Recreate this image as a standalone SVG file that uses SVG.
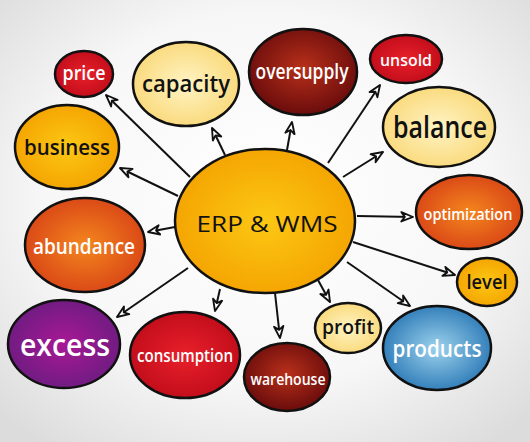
<svg xmlns="http://www.w3.org/2000/svg" width="530" height="442" viewBox="0 0 530 442">
<defs>
<radialGradient id="bg" cx="50%" cy="45%" r="70%"><stop offset="0" stop-color="#ffffff"/><stop offset="0.6" stop-color="#f7f7f7"/><stop offset="1" stop-color="#dcdcdc"/></radialGradient>
<radialGradient id="gRed" cx="50%" cy="50%" r="55%"><stop offset="0" stop-color="#e8202a"/><stop offset="1" stop-color="#c00c1a"/></radialGradient>
<radialGradient id="gPale" cx="50%" cy="50%" r="55%"><stop offset="0" stop-color="#fff4c4"/><stop offset="1" stop-color="#f9d878"/></radialGradient>
<radialGradient id="gMaroon" cx="50%" cy="45%" r="55%"><stop offset="0" stop-color="#b8301a"/><stop offset="1" stop-color="#6a0c0c"/></radialGradient>
<radialGradient id="gGold" cx="50%" cy="50%" r="55%"><stop offset="0" stop-color="#fcc814"/><stop offset="1" stop-color="#f4a200"/></radialGradient>
<radialGradient id="gOrange" cx="50%" cy="50%" r="55%"><stop offset="0" stop-color="#f4861e"/><stop offset="1" stop-color="#d84416"/></radialGradient>
<radialGradient id="gPurple" cx="50%" cy="50%" r="55%"><stop offset="0" stop-color="#a81896"/><stop offset="1" stop-color="#6c1c80"/></radialGradient>
<radialGradient id="gBlue" cx="50%" cy="50%" r="55%"><stop offset="0" stop-color="#9cd2ec"/><stop offset="1" stop-color="#2a78b6"/></radialGradient>
<marker id="ah" viewBox="0 0 12 10" refX="11" refY="5" markerWidth="14" markerHeight="12" markerUnits="userSpaceOnUse" orient="auto">
<path d="M1,1 L11,5 L1,9 L4,5 z" fill="#ffffff" stroke="#111111" stroke-width="1.6" stroke-linejoin="round"/>
</marker>
</defs>
<style>
.n{stroke:#111111;stroke-width:2.5}
.t{font-family:"Open Sans","Liberation Sans",sans-serif;font-weight:600;text-anchor:middle}
.w{fill:#ffffff}
.k{fill:#111111}
.c line{stroke:#111111;stroke-width:2;marker-end:url(#ah)}
</style>
<rect width="530" height="442" fill="url(#bg)"/>
<g class="c" id="connectors">
<line x1="190" y1="177" x2="106" y2="95"/>
<line x1="225" y1="155" x2="212" y2="128"/>
<line x1="287" y1="150" x2="292" y2="122"/>
<line x1="328" y1="163" x2="380" y2="85"/>
<line x1="343" y1="177" x2="383" y2="152"/>
<line x1="178" y1="196" x2="120" y2="168"/>
<line x1="175" y1="227" x2="148" y2="232"/>
<line x1="357" y1="216" x2="413" y2="217"/>
<line x1="353" y1="242" x2="455" y2="275"/>
<line x1="347" y1="262" x2="410" y2="306"/>
<line x1="318" y1="280" x2="330" y2="302"/>
<line x1="275" y1="293" x2="280" y2="338"/>
<line x1="220" y1="289" x2="215" y2="311"/>
<line x1="188" y1="268" x2="117" y2="317"/>
</g>
<g id="center"><ellipse class="n" cx="265" cy="221" rx="90" ry="72" fill="url(#gGold)"/><text class="t k" x="267" y="232" font-size="21" style="font-weight:400" textLength="141" lengthAdjust="spacingAndGlyphs">ERP &amp; WMS</text></g>
<g id="price"><ellipse class="n" cx="84" cy="74" rx="29" ry="23" fill="url(#gRed)"/><text class="t w" x="84" y="80" font-size="19" textLength="43" lengthAdjust="spacingAndGlyphs">price</text></g>
<g id="capacity"><ellipse class="n" cx="186" cy="84" rx="53" ry="42" fill="url(#gPale)"/><text class="t k" x="186" y="92" font-size="24" textLength="88" lengthAdjust="spacingAndGlyphs">capacity</text></g>
<g id="oversupply"><ellipse class="n" cx="303" cy="72" rx="54" ry="43" fill="url(#gMaroon)"/><text class="t w" x="302" y="79" font-size="21" textLength="93" lengthAdjust="spacingAndGlyphs">oversupply</text></g>
<g id="unsold"><ellipse class="n" cx="406" cy="59" rx="36" ry="24" fill="url(#gRed)"/><text class="t w" x="406" y="66" font-size="17" textLength="52" lengthAdjust="spacingAndGlyphs">unsold</text></g>
<g id="balance"><ellipse class="n" cx="439" cy="127" rx="56" ry="40" fill="url(#gPale)"/><text class="t k" x="440" y="138" font-size="30" textLength="94" lengthAdjust="spacingAndGlyphs">balance</text></g>
<g id="business"><ellipse class="n" cx="67" cy="147" rx="52" ry="42" fill="url(#gGold)"/><text class="t k" x="67" y="155" font-size="22" textLength="86" lengthAdjust="spacingAndGlyphs">business</text></g>
<g id="abundance"><ellipse class="n" cx="85" cy="245" rx="60" ry="47" fill="url(#gOrange)"/><text class="t w" x="84" y="254" font-size="22" textLength="102" lengthAdjust="spacingAndGlyphs">abundance</text></g>
<g id="optimization"><ellipse class="n" cx="469" cy="212" rx="53" ry="37" fill="url(#gOrange)"/><text class="t w" x="468" y="220" font-size="17" textLength="89" lengthAdjust="spacingAndGlyphs">optimization</text></g>
<g id="level"><ellipse class="n" cx="487" cy="282" rx="30" ry="24" fill="url(#gGold)"/><text class="t k" x="487" y="289" font-size="20" textLength="41" lengthAdjust="spacingAndGlyphs">level</text></g>
<g id="excess"><ellipse class="n" cx="64" cy="344" rx="56" ry="44" fill="url(#gPurple)"/><text class="t w" x="65" y="356" font-size="31" textLength="90" lengthAdjust="spacingAndGlyphs">excess</text></g>
<g id="consumption"><ellipse class="n" cx="185" cy="355" rx="55" ry="43" fill="url(#gRed)"/><text class="t w" x="185" y="362" font-size="18" textLength="96" lengthAdjust="spacingAndGlyphs">consumption</text></g>
<g id="warehouse"><ellipse class="n" cx="287" cy="377" rx="43" ry="34" fill="url(#gMaroon)"/><text class="t w" x="288" y="385" font-size="16" textLength="75" lengthAdjust="spacingAndGlyphs">warehouse</text></g>
<g id="profit"><ellipse class="n" cx="348" cy="328" rx="33" ry="25" fill="url(#gPale)"/><text class="t k" x="348" y="334" font-size="20" textLength="52" lengthAdjust="spacingAndGlyphs">profit</text></g>
<g id="products"><ellipse class="n" cx="437" cy="348" rx="54" ry="42" fill="url(#gBlue)"/><text class="t w" x="437" y="357" font-size="24" textLength="89" lengthAdjust="spacingAndGlyphs">products</text></g>
</svg>
